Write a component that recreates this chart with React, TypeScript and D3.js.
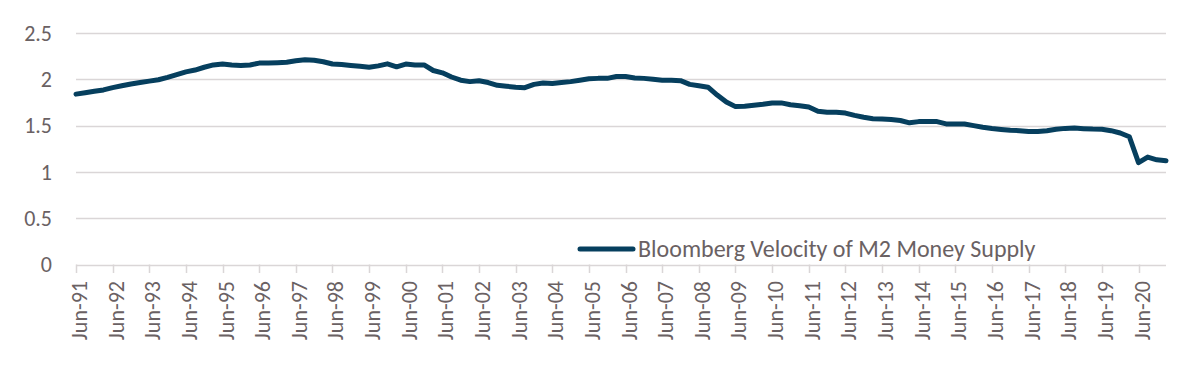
import React, { useEffect, useRef } from 'react';
import * as d3 from 'd3';

// Quarterly velocity of M2, Jun-91 .. Mar-21
const velocity = [
  1.84, 1.855, 1.87, 1.885, 1.91, 1.93, 1.95, 1.965,
  1.98, 1.995, 2.02, 2.05, 2.08, 2.10, 2.13, 2.155,
  2.165, 2.155, 2.15, 2.155, 2.175, 2.175, 2.18, 2.185,
  2.20, 2.21, 2.205, 2.19, 2.165, 2.16, 2.15, 2.14,
  2.13, 2.145, 2.167, 2.135, 2.164, 2.155, 2.155, 2.095,
  2.07, 2.025, 1.99, 1.975, 1.985, 1.965, 1.935, 1.925,
  1.915, 1.91, 1.945, 1.96, 1.955, 1.965, 1.975, 1.99,
  2.005, 2.01, 2.01, 2.03, 2.03, 2.015, 2.01, 2.0,
  1.99, 1.99, 1.985, 1.945, 1.93, 1.915, 1.83, 1.755,
  1.705, 1.71, 1.72, 1.73, 1.745, 1.745, 1.725, 1.715,
  1.70, 1.655, 1.645, 1.645, 1.635, 1.61, 1.59, 1.575,
  1.57, 1.565, 1.555, 1.53, 1.543, 1.543, 1.543, 1.518,
  1.518, 1.518, 1.50, 1.482, 1.468, 1.458, 1.45, 1.445,
  1.437, 1.436, 1.445, 1.46, 1.47, 1.473, 1.467, 1.462,
  1.46, 1.445, 1.42, 1.38, 1.10, 1.16, 1.13, 1.12,
];

const yearLabels = [
  'Jun-91', 'Jun-92', 'Jun-93', 'Jun-94', 'Jun-95', 'Jun-96', 'Jun-97', 'Jun-98',
  'Jun-99', 'Jun-00', 'Jun-01', 'Jun-02', 'Jun-03', 'Jun-04', 'Jun-05', 'Jun-06',
  'Jun-07', 'Jun-08', 'Jun-09', 'Jun-10', 'Jun-11', 'Jun-12', 'Jun-13', 'Jun-14',
  'Jun-15', 'Jun-16', 'Jun-17', 'Jun-18', 'Jun-19', 'Jun-20',
];

const yTicks = [0, 0.5, 1, 1.5, 2, 2.5];
const seriesName = 'Bloomberg Velocity of M2 Money Supply';

const App = () => {
  const svgRef = useRef<SVGSVGElement>(null);

  useEffect(() => {
    if (!svgRef.current) return;
    const svg = d3.select(svgRef.current);
    svg.selectAll('*').remove();

    const width = 1192;
    const height = 368;
    const font = 'Carlito, Calibri, Lato, sans-serif';
    const textColor = '#6a6163';
    const gridColor = '#dad6d7';
    const lineColor = '#063f5e';

    svg.attr('width', width).attr('height', height);

    const x = d3.scalePoint<number>()
      .domain(velocity.map((_, i) => i))
      .range([76, 1166]);

    const y = d3.scaleLinear()
      .domain([0, 2.5])
      .range([264.5, 33]);

    // gridlines
    svg.append('g')
      .selectAll('line')
      .data(yTicks)
      .enter()
      .append('line')
      .attr('x1', 76)
      .attr('x2', 1166)
      .attr('y1', d => Math.round(y(d)) + 0.5)
      .attr('y2', d => Math.round(y(d)) + 0.5)
      .attr('stroke', gridColor)
      .attr('stroke-width', 1.5);

    // y labels
    svg.append('g')
      .selectAll('text')
      .data(yTicks)
      .enter()
      .append('text')
      .attr('x', 52)
      .attr('y', d => y(d))
      .attr('dy', '0.35em')
      .attr('text-anchor', 'end')
      .attr('font-family', font)
      .attr('font-size', '22px')
      .attr('fill', textColor)
      .text(d => String(d));

    // x ticks every 4 quarters
    const tickIdx = yearLabels.map((_, i) => i * 4);
    const xt = svg.append('g');
    xt.selectAll('line')
      .data(tickIdx)
      .enter()
      .append('line')
      .attr('x1', d => Math.round(x(d)!) + 0.5)
      .attr('x2', d => Math.round(x(d)!) + 0.5)
      .attr('y1', 264.5)
      .attr('y2', 273)
      .attr('stroke', gridColor)
      .attr('stroke-width', 1.5);

    xt.selectAll('text')
      .data(tickIdx)
      .enter()
      .append('text')
      .attr('transform', d => `translate(${x(d)! + 11},281) rotate(-90)`)
      .attr('text-anchor', 'end')
      .attr('font-family', font)
      .attr('font-size', '22px')
      .attr('fill', textColor)
      .text((_, i) => yearLabels[i]);

    // the series
    const line = d3.line<number>()
      .x((_, i) => x(i)!)
      .y(d => y(d));

    svg.append('path')
      .datum(velocity)
      .attr('d', line)
      .attr('fill', 'none')
      .attr('stroke', lineColor)
      .attr('stroke-width', 5)
      .attr('stroke-linejoin', 'round')
      .attr('stroke-linecap', 'round');

    // legend
    svg.append('line')
      .attr('x1', 580)
      .attr('x2', 633)
      .attr('y1', 249)
      .attr('y2', 249)
      .attr('stroke', lineColor)
      .attr('stroke-width', 5)
      .attr('stroke-linecap', 'round');

    svg.append('text')
      .attr('x', 638)
      .attr('y', 257)
      .attr('font-family', font)
      .attr('font-size', '24px')
      .attr('fill', textColor)
      .text(seriesName);
  }, []);

  return (
    <div style={{ position: 'absolute', top: 0, left: 0, background: '#fff' }}>
      <svg ref={svgRef} width="1192" height="368"></svg>
    </div>
  );
};

export default App;
